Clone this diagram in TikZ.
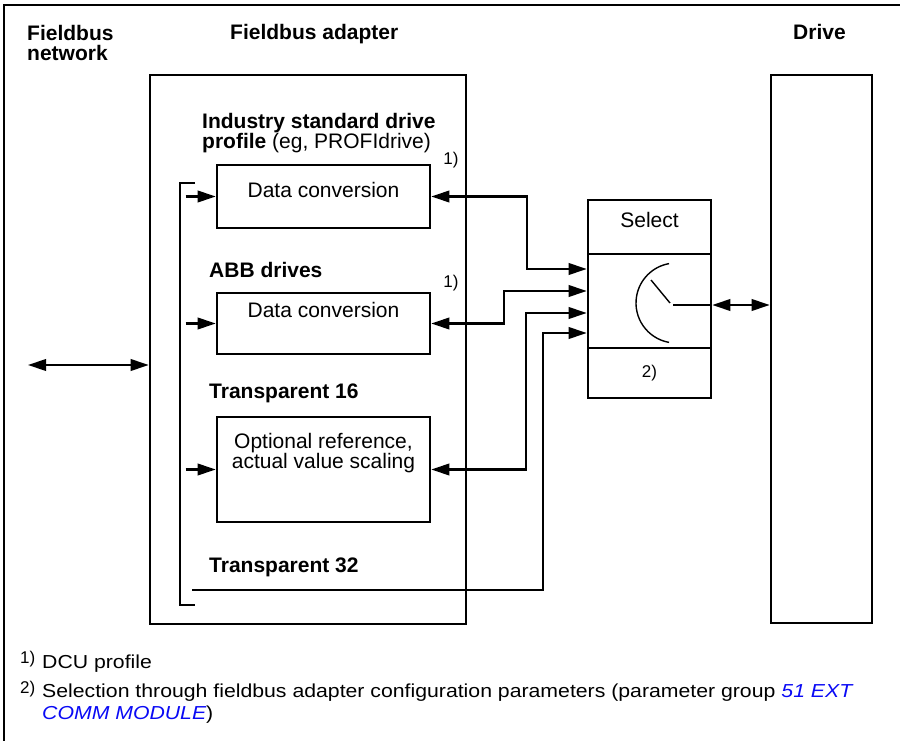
\documentclass[tikz,border=0pt]{standalone}
\usepackage{fontspec}
\setmainfont{Liberation Sans}
\newfontfamily\notefont[FakeStretch=1.13]{Liberation Sans}
\definecolor{linkblue}{RGB}{10, 10, 245}
\usetikzlibrary{arrows.meta, positioning}
\newcommand{\mainfs}{\fontsize{21}{20}\selectfont}
\newcommand{\notefs}{\notefont\fontsize{18.8}{22}\selectfont}
\newcommand{\markfs}{\fontsize{17}{17}\selectfont}

\begin{document}
\begin{tikzpicture}[x=1pt, y=-1pt, >={Triangle[length=18pt,width=11.5pt]},
    blockbox/.style={rectangle, draw, line width=2.6pt, inner sep=0pt},
    convbox/.style={blockbox, minimum width=213pt},
    selbox/.style={blockbox, minimum width=123pt},
    boxtext/.style={inner sep=0pt, align=center, font=\mainfs},
    heading/.style={inner sep=0pt, align=left, font=\mainfs\bfseries},
    notemark/.style={inner sep=0pt, font=\markfs},
    notetext/.style={inner sep=0pt, align=left, font=\notefs},
    conn/.style={line width=2.2pt}]
        \useasboundingbox (0,0) rectangle (900,741);
        \draw [line width=1.5pt] (900,5) -- (4,5) -- (4,741);

        \node [heading, anchor=north west] (netlabel) at (27,25) {Fieldbus\\network};
        \node [heading, anchor=base west] (adaptlabel) at (230,40) {Fieldbus adapter};
        \node [heading, anchor=base west] (drivelabel) at (793,40) {Drive};

        \node [blockbox, minimum width=316pt, minimum height=549pt] (adapter) at (308,349.5) {};
        \node [blockbox, minimum width=101pt, minimum height=548pt] (drive) at (821.5,349) {};

        \node [heading, anchor=north west] (indlabel) at (202,113) {Industry standard drive\\profile \mdseries(eg, PROFIdrive)};
        \node [convbox, minimum height=63pt] (conv1) at (323.5,196.5) {};
        \node [boxtext, below=18pt of conv1.north] (conv1text) {Data conversion};
        \node [notemark] (note1a) at (451,160) {1)};

        \node [heading, anchor=base west] (abblabel) at (209,277) {ABB drives};
        \node [convbox, minimum height=61pt] (conv2) at (323.5,323.5) {};
        \node [boxtext, below=10pt of conv2.north] (conv2text) {Data conversion};
        \node [notemark] (note1b) at (451,283) {1)};

        \node [heading, anchor=base west] (t16label) at (209,398) {Transparent 16};
        \node [convbox, minimum height=105pt] (conv3) at (323.5,469.5) {};
        \node [boxtext, below=17pt of conv3.north] (conv3text) {Optional reference,\\actual value scaling};

        \node [heading, anchor=base west] (t32label) at (209,572) {Transparent 32};
        \coordinate (t32in) at (192,590);
        \coordinate (netend) at (28,365);

        \node [selbox, minimum height=54pt, font=\mainfs, text height=15pt, text depth=15pt] (selhead) at (649.5,227) {Select};
        \node [selbox, minimum height=94pt] (selsw) at (649.5,301) {};
        \node [selbox, minimum height=50pt, font=\markfs, text height=12pt, text depth=4pt] (selfoot) at (649.5,373) {2)};

        \draw [line width=1.4pt] (676,303) ++(100:40) arc[start angle=100, end angle=260, radius=40];
        \draw [line width=1.4pt] (651,280) -- (670,303);
        \draw [conn] (673,305) -- (selsw.east |- 0,305);

        \draw [line width=2.6pt] (195,183) -- (180,183) -- (180,605) -- (195,605);
        \draw [->, conn] ([xshift=-30pt]conv1.west) -- (conv1.west);
        \draw [->, conn] ([xshift=-30pt]conv2.west) -- (conv2.west);
        \draw [->, conn] ([xshift=-30pt]conv3.west) -- (conv3.west);

        \draw [<->, conn] (conv1.east) -| (527,269) -- (selsw.west |- 0,269);
        \draw [<->, conn] (conv2.east) -| (504,291) -- (selsw.west |- 0,291);
        \draw [<->, conn] (conv3.east) -| (526,313) -- (selsw.west |- 0,313);
        \draw [->, conn] (t32in) -| (543,333) -- (selsw.west |- 0,333);

        \draw [<->, conn] (netend) -- (adapter.west |- netend);
        \draw [<->, conn] (selsw.east |- 0,305) -- (drive.west |- 0,305);

        \node [notemark, anchor=base west] (fn1mark) at (20,663) {1)};
        \node [notetext, anchor=base west] (fn1) at (42,668) {DCU profile};
        \node [notemark, anchor=base west] (fn2mark) at (20,693) {2)};
        \node [notetext, anchor=north west] (fn2) at (42,684) {Selection through fieldbus adapter configuration parameters (parameter group \textcolor{linkblue}{\itshape 51 EXT}\\\textcolor{linkblue}{\itshape COMM MODULE})};
    \end{tikzpicture}
\end{document}
